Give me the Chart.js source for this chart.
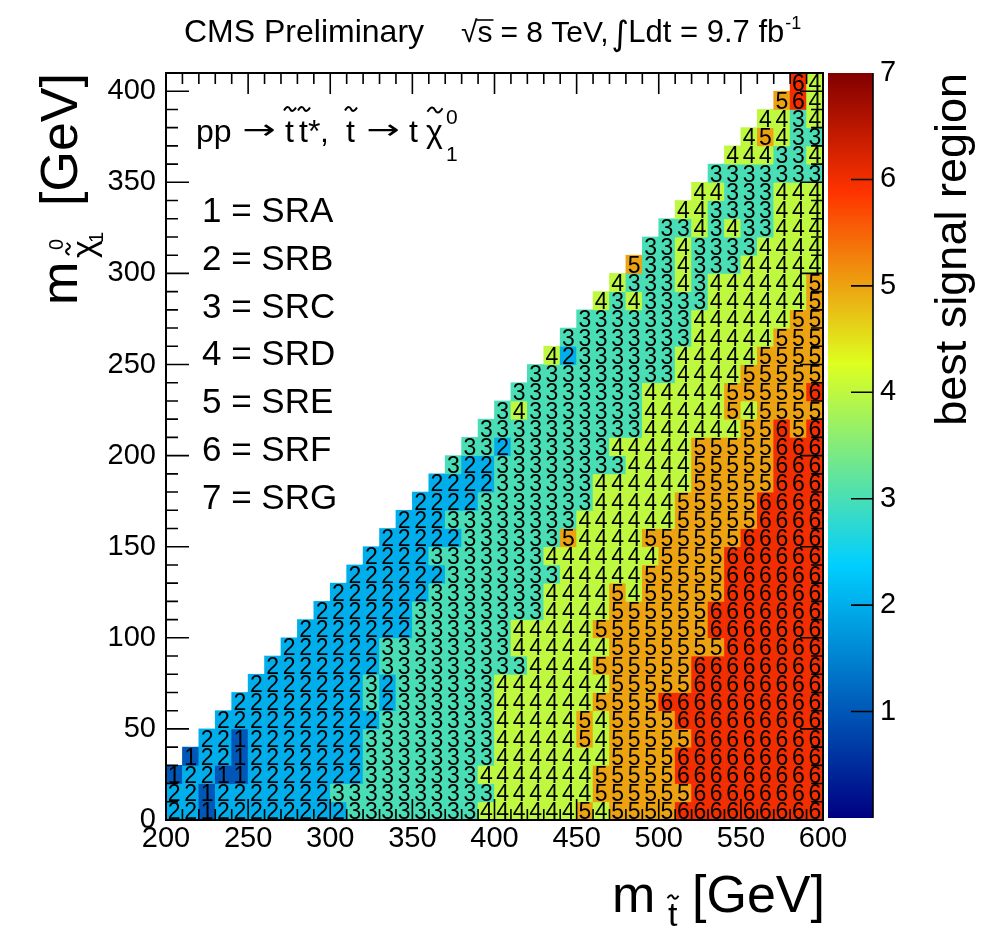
<!DOCTYPE html>
<html>
<head>
<meta charset="utf-8">
<script src="https://cdn.jsdelivr.net/npm/chart.js@4.4.1/dist/chart.umd.min.js"></script>
<style>
  body { margin: 0; background: #fff; }
  #wrap { position: relative; width: 988px; height: 930px; }
  canvas { position: absolute; top: 0; }
</style>
</head>
<body>
<div id="wrap">
  <canvas id="main" width="988" height="930" style="left:0"></canvas>
  <canvas id="zbar" width="168" height="930" style="left:820px"></canvas>
</div>
<script>
// bin low edges (GeV)
const mStop = [200, 210, 220, 230, 240, 250, 260, 270, 280, 290,
               300, 310, 320, 330, 340, 350, 360, 370, 380, 390,
               400, 410, 420, 430, 440, 450, 460, 470, 480, 490,
               500, 510, 520, 530, 540, 550, 560, 570, 580, 590];
const mLSP = [0, 10, 20, 30, 40, 50, 60, 70, 80, 90, 100, 110, 120, 130, 140, 150, 160,
              170, 180, 190, 200, 210, 220, 230, 240, 250, 260, 270, 280, 290, 300,
              310, 320, 330, 340, 350, 360, 370, 380, 390, 400];
const binWidth = 10;

// first stop mass filled in each mLSP row
const rowStart = [200, 200, 200, 210, 220, 230, 240, 250, 260, 270, 280, 290, 300, 310,
                  320, 330, 340, 350, 360, 370, 380, 390, 400, 410, 420, 430, 440, 450,
                  460, 470, 480, 490, 500, 510, 520, 530, 540, 550, 560, 570, 580];

// best signal region per cell, one string per mLSP row (bottom first), starting at rowStart
const bestRegion = [
  "2212222222233333333444444545555666666666", // 0
  "2212222222333333333344444455555566666666", // 10
  "1221122222223333333444444455555666666666", // 20
  "122122222223333333344444445555666666666",  // 30
  "22122222223333333344444545555566666666",   // 40
  "2222222222333333344444545555666666666",    // 50
  "222222223233333344444455556666666666",     // 60
  "22222223233333344444445555566666666",      // 70
  "2222222333333333444455555566666666",       // 80
  "222222333333334444445555555666666",        // 90
  "22222223333334444455555556666666",         // 100
  "2222223333333344445555556666666",          // 110
  "222222333333344445455555666666",           // 120
  "22222233333334444455555666666",            // 130
  "2222333333344444445555666666",             // 140
  "222223333335444455555566666",              // 150
  "22233333333444444555556666",               // 160
  "2222333333344444555556666",                // 170
  "222233333344444455555666",                 // 180
  "32233333333444455555666",                  // 190
  "3323333334444455555666",                   // 200
  "333333333344444455656",                    // 210
  "34333333344444545555",                     // 220
  "3333333344444555556",                      // 230
  "333333333444455555",                       // 240
  "42333333444445555",                        // 250
  "3333333344444555",                         // 260
  "333333344444455",                          // 270
  "43433334444445",                           // 280
  "4333434444445",                            // 290
  "533433344444",                             // 300
  "33433334444",                              // 310
  "3343433444",                               // 320
  "443333444",                                // 330
  "44333444",                                 // 340
  "3333333",                                  // 350
  "444334",                                   // 360
  "45433",                                    // 370
  "4434",                                     // 380
  "564",                                      // 390
  "64"                                        // 400
];

const xTicks = [200, 250, 300, 350, 400, 450, 500, 550, 600];
const yTicks = [0, 50, 100, 150, 200, 250, 300, 350, 400];
const zTicks = [1, 2, 3, 4, 5, 6, 7];
const regionNames = ['SRA', 'SRB', 'SRC', 'SRD', 'SRE', 'SRF', 'SRG'];

const FONT = '"Liberation Sans", Arial, Helvetica, sans-serif';
const SYM = '"DejaVu Sans", sans-serif';
const zMax = 7;

// ROOT style rainbow palette
const palStops = [0.00, 0.34, 0.61, 0.84, 1.00];
const palR = [0.00, 0.00, 0.87, 1.00, 0.51];
const palG = [0.00, 0.81, 1.00, 0.20, 0.00];
const palB = [0.51, 1.00, 0.12, 0.00, 0.00];

function palette(t) {
  t = Math.max(0, Math.min(1, t));
  let i = 0;
  while (i < palStops.length - 2 && t > palStops[i + 1]) i++;
  const f = (t - palStops[i]) / (palStops[i + 1] - palStops[i]);
  const c = arr => Math.round(255 * (arr[i] + f * (arr[i + 1] - arr[i])));
  return `rgb(${c(palR)},${c(palG)},${c(palB)})`;
}

// cells for the bar chart
const cells = [];
bestRegion.forEach((row, i) => {
  const j0 = mStop.indexOf(rowStart[i]);
  for (let k = 0; k < row.length; k++) {
    const m = mStop[j0 + k];
    cells.push({ x: m + binWidth / 2, y: [mLSP[i], mLSP[i] + binWidth], v: Number(row[k]) });
  }
});

function txt(ctx, s, x, y, size, align, family) {
  ctx.font = size + 'px ' + (family || FONT);
  ctx.textAlign = align || 'left';
  ctx.textBaseline = 'alphabetic';
  ctx.fillText(s, x, y);
  return ctx.measureText(s).width;
}

// thin long arrow glyph
function arrow(ctx, x, y) {
  ctx.save();
  ctx.translate(x, y);
  ctx.scale(1.05, 0.72);
  txt(ctx, '\u2192', 0, -4, 38, 'left', SYM);
  ctx.restore();
}

function tilde(ctx, cx, y, w, lw) {
  ctx.save();
  ctx.lineWidth = lw || 2;
  ctx.beginPath();
  ctx.moveTo(cx - w / 2, y + w * 0.12);
  ctx.bezierCurveTo(cx - w / 4, y - w * 0.28, cx - w / 10, y - w * 0.2, cx, y);
  ctx.bezierCurveTo(cx + w / 10, y + w * 0.2, cx + w / 4, y + w * 0.28, cx + w / 2, y - w * 0.12);
  ctx.stroke();
  ctx.restore();
}

// numbers written in every cell
const cellText = {
  id: 'cellText',
  afterDatasetsDraw(chart) {
    const ctx = chart.ctx;
    const meta = chart.getDatasetMeta(0);
    ctx.save();
    ctx.fillStyle = '#000';
    ctx.font = '23px ' + FONT;
    ctx.textAlign = 'center';
    ctx.textBaseline = 'alphabetic';
    meta.data.forEach((bar, i) => {
      const yc = (bar.y + bar.base) / 2;
      ctx.fillText(String(cells[i].v), bar.x, yc + 8.5);
    });
    ctx.restore();
  }
};

// ROOT-like frame with inward ticks on all sides
const frameTicks = {
  id: 'frameTicks',
  afterDraw(chart) {
    const ctx = chart.ctx;
    const a = chart.chartArea;
    const xs = chart.scales.x, ys = chart.scales.y;
    ctx.save();
    ctx.strokeStyle = '#000';
    ctx.lineWidth = 1.6;
    ctx.beginPath();
    mStop.concat([600]).forEach(m => {
      const px = xs.getPixelForValue(m);
      const len = m % 50 === 0 ? 21 : 11;
      ctx.moveTo(px, a.bottom); ctx.lineTo(px, a.bottom - len);
      ctx.moveTo(px, a.top); ctx.lineTo(px, a.top + len);
    });
    mLSP.concat([410]).forEach(m => {
      const py = ys.getPixelForValue(m);
      const len = m % 50 === 0 ? 23 : 12;
      ctx.moveTo(a.left, py); ctx.lineTo(a.left + len, py);
      ctx.moveTo(a.right, py); ctx.lineTo(a.right - len, py);
    });
    ctx.stroke();
    ctx.lineWidth = 2;
    ctx.strokeRect(a.left, a.top, a.right - a.left, a.bottom - a.top);
    ctx.restore();
  }
};

// titles, process label and legend of regions
const annotations = {
  id: 'annotations',
  afterDraw(chart) {
    const ctx = chart.ctx;
    ctx.save();
    ctx.fillStyle = '#000';
    ctx.strokeStyle = '#000';

    // top title
    txt(ctx, 'CMS Preliminary', 184, 42, 32);
    let x = 461;
    x += txt(ctx, '\u221A', x, 42, 30);
    const sw = txt(ctx, 's', x, 42, 30);
    ctx.lineWidth = 1.6;
    ctx.beginPath(); ctx.moveTo(x - 1, 20); ctx.lineTo(x + sw + 1, 20); ctx.stroke();
    x += sw + 8;
    x += txt(ctx, '= 8 TeV,', x, 42, 30) + 3;
    x += txt(ctx, '\u222B', x, 45, 34, 'left', SYM) - 1;
    x += txt(ctx, 'Ldt = 9.7 fb', x, 42, 31);
    txt(ctx, '-1', x + 1, 29, 18);

    // process
    txt(ctx, 'pp', 196, 142, 32);
    arrow(ctx, 242, 142);
    txt(ctx, 't', 285, 142, 32); tilde(ctx, 290, 109, 12);
    txt(ctx, 't', 299, 142, 32); tilde(ctx, 304, 109, 12);
    txt(ctx, '*', 308, 142, 32);
    txt(ctx, ',', 320, 142, 32);
    txt(ctx, 't', 346, 142, 32); tilde(ctx, 351, 109, 12);
    arrow(ctx, 366, 142);
    txt(ctx, 't', 409, 142, 32);
    txt(ctx, '\u03C7', 426, 142, 32); tilde(ctx, 435, 110, 15);
    txt(ctx, '0', 446, 124, 21);
    txt(ctx, '1', 446, 161, 21);

    // legend
    regionNames.forEach((name, k) => {
      txt(ctx, (k + 1) + ' = ' + name, 202, 222 + k * 47.8, 35);
    });

    // x title
    txt(ctx, 'm', 612, 912, 52);
    txt(ctx, 't', 668, 926, 34); tilde(ctx, 673, 897, 11);
    txt(ctx, '[GeV]', 825, 912, 52, 'right');

    // y title (rotated)
    ctx.translate(77, 0);
    ctx.rotate(-Math.PI / 2);
    txt(ctx, 'm', -305, 0, 52);
    txt(ctx, '\u03C7', -258, 18, 34); tilde(ctx, -249, -9, 12);
    txt(ctx, '0', -250, -14, 20);
    txt(ctx, '1', -243, 26, 20);
    txt(ctx, '[GeV]', -73, 0, 52, 'right');
    ctx.restore();
  }
};

new Chart(document.getElementById('main'), {
  type: 'bar',
  data: {
    datasets: [{
      data: cells,
      backgroundColor: ctx => palette(ctx.raw.v / zMax),
      borderWidth: 0,
      barPercentage: 1,
      categoryPercentage: 1
    }]
  },
  options: {
    responsive: false,
    animation: false,
    layout: { padding: { left: 0, top: 73, right: 165, bottom: 0 } },
    plugins: { legend: { display: false }, tooltip: { enabled: false } },
    scales: {
      x: {
        type: 'linear',
        offset: false,
        min: 200,
        max: 600,
        afterBuildTicks: s => { s.ticks = xTicks.map(v => ({ value: v })); },
        afterFit: s => { s.height = 110; },
        grid: { display: false, drawTicks: false, offset: false },
        border: { display: false },
        ticks: { color: '#000', font: { family: FONT, size: 29 }, padding: 2, maxRotation: 0, autoSkip: false }
      },
      y: {
        type: 'linear',
        min: 0,
        max: 410,
        afterBuildTicks: s => { s.ticks = yTicks.map(v => ({ value: v })); },
        afterFit: s => { s.width = 166; },
        grid: { display: false, drawTicks: false },
        border: { display: false },
        ticks: { color: '#000', font: { family: FONT, size: 29 }, padding: 10, autoSkip: false }
      }
    }
  },
  plugins: [cellText, frameTicks, annotations]
});

// colour scale
const colorBar = {
  id: 'colorBar',
  beforeDraw(chart) {
    const ctx = chart.ctx;
    const a = chart.chartArea;
    const ys = chart.scales.y;
    const y0 = ys.getPixelForValue(0), y1 = ys.getPixelForValue(zMax);
    const g = ctx.createLinearGradient(0, y0, 0, y1);
    palStops.forEach(s => g.addColorStop(s, palette(s)));
    ctx.save();
    ctx.fillStyle = g;
    ctx.fillRect(a.left, y1, a.right - a.left, y0 - y1);
    ctx.restore();
  },
  afterDraw(chart) {
    const ctx = chart.ctx;
    const a = chart.chartArea;
    const ys = chart.scales.y;
    ctx.save();
    ctx.strokeStyle = '#000';
    ctx.lineWidth = 1.6;
    ctx.beginPath();
    zTicks.slice(0, -1).forEach(v => {
      const py = ys.getPixelForValue(v);
      ctx.moveTo(a.right, py); ctx.lineTo(a.right - 22, py);
    });
    ctx.moveTo(a.right, a.top); ctx.lineTo(a.right, a.bottom);
    ctx.stroke();
    ctx.fillStyle = '#000';
    ctx.translate(146, 0);
    ctx.rotate(-Math.PI / 2);
    txt(ctx, 'best signal region', -73, 0, 45, 'right');
    ctx.restore();
  }
};

new Chart(document.getElementById('zbar'), {
  type: 'scatter',
  data: { datasets: [] },
  options: {
    responsive: false,
    animation: false,
    layout: { padding: { left: 8, top: 73, right: 0, bottom: 112 } },
    plugins: { legend: { display: false }, tooltip: { enabled: false } },
    scales: {
      x: { display: false, min: 0, max: 1 },
      y: {
        position: 'right',
        min: 0,
        max: zMax,
        afterBuildTicks: s => { s.ticks = zTicks.map(v => ({ value: v })); },
        afterFit: s => { s.width = 115; },
        grid: { display: false, drawTicks: false },
        border: { display: false },
        ticks: { color: '#000', font: { family: FONT, size: 29 }, padding: 7 }
      }
    }
  },
  plugins: [colorBar]
});
</script>
</body>
</html>
